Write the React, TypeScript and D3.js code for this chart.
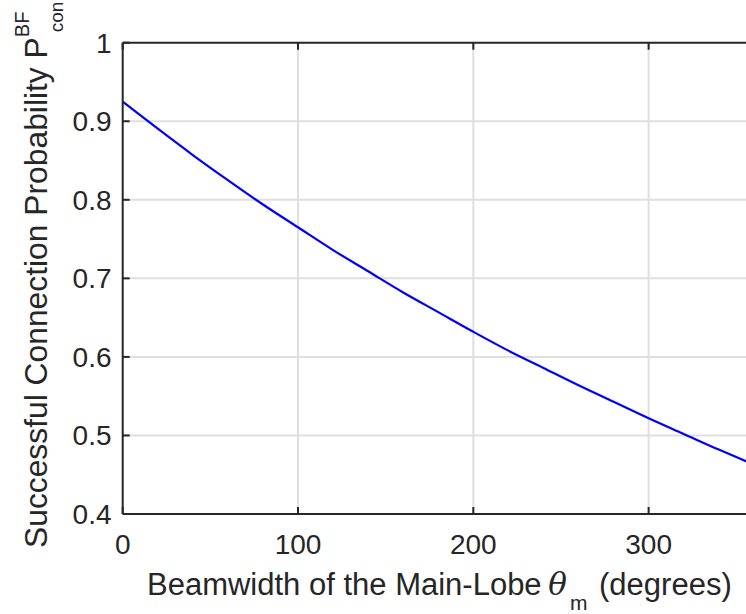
import React from "react";
import * as d3 from "d3";

const thetaDeg = [0, 20, 40, 60, 80, 100, 120, 140, 160, 180, 200, 220, 240, 260, 280, 300, 320, 340, 360];
const pCon = [0.925, 0.8905, 0.857, 0.825, 0.794, 0.765, 0.736, 0.709, 0.682, 0.657, 0.632, 0.608, 0.586, 0.564, 0.543, 0.522, 0.502, 0.482, 0.463];
const xTicks = [0, 100, 200, 300];
const yTicks = [0.4, 0.5, 0.6, 0.7, 0.8, 0.9, 1];

export default function App() {
  const W = 746, H = 614;
  const left = 122.7, right = 753.8, top = 42.7, bottom = 514;
  const x = d3.scaleLinear().domain([0, 360]).range([left, right]);
  const y = d3.scaleLinear().domain([0.4, 1]).range([bottom, top]);
  const line = d3.line<number>().x((_, i) => x(thetaDeg[i])).y((d) => y(d)).curve(d3.curveCatmullRom);
  const axisColor = "#262626";
  const font = "'Liberation Sans', Arial, Helvetica, sans-serif";
  const fs = 28;
  const lfs = 31;
  const ylfs = 31.8;
  const sfs = 21;
  return (
    <svg width={W} height={H} style={{ position: "absolute", left: 0, top: 0, overflow: "hidden", background: "#fff" }}>
      <rect x={0} y={0} width={W} height={H} fill="#fff" />
      {xTicks.filter((t) => t > 0).map((t) => (
        <line key={"gx" + t} x1={x(t)} x2={x(t)} y1={top} y2={bottom} stroke="#dfdfdf" strokeWidth={2} />
      ))}
      {yTicks.filter((t) => t > 0.4 && t < 1).map((t) => (
        <line key={"gy" + t} x1={left} x2={right} y1={y(t)} y2={y(t)} stroke="#dfdfdf" strokeWidth={2} />
      ))}
      <path d={line(pCon) || ""} fill="none" stroke="#0000ff" strokeWidth={2.2} />
      <line x1={left} x2={right} y1={bottom} y2={bottom} stroke={axisColor} strokeWidth={2} />
      <line x1={left} x2={right} y1={top} y2={top} stroke={axisColor} strokeWidth={2} />
      <line x1={left} x2={left} y1={top} y2={bottom} stroke={axisColor} strokeWidth={2} />
      {xTicks.map((t) => (
        <g key={"xt" + t}>
          <line x1={x(t)} x2={x(t)} y1={bottom} y2={bottom - 7} stroke={axisColor} strokeWidth={2} />
          <line x1={x(t)} x2={x(t)} y1={top} y2={top + 7} stroke={axisColor} strokeWidth={2} />
          <text x={x(t)} y={554} textAnchor="middle" fontFamily={font} fontSize={fs} fill={axisColor}>{t}</text>
        </g>
      ))}
      {yTicks.map((t) => (
        <g key={"yt" + t}>
          <line x1={left} x2={left + 7} y1={y(t)} y2={y(t)} stroke={axisColor} strokeWidth={2} />
          <text x={111.5} y={y(t) + 10} textAnchor="end" fontFamily={font} fontSize={fs} fill={axisColor}>{t === 1 ? "1" : t.toFixed(1)}</text>
        </g>
      ))}
      <text x={147} y={595} textAnchor="start" fontFamily={font} fontSize={lfs} fill={axisColor}>
        Beamwidth of the Main-Lobe{" "}
        <tspan dx={-2} fontFamily="'DejaVu Serif', 'Liberation Serif', serif" fontStyle="italic">θ</tspan>
        <tspan dx={3} dy={15} fontSize={sfs}>m</tspan>
        <tspan dx={3} dy={-15}> (degrees)</tspan>
      </text>
      <text transform={`translate(47, 548) rotate(-90)`} textAnchor="start" fontFamily={font} fontSize={ylfs} fill={axisColor}>
        Successful Connection Probability P
        <tspan dy={-18} fontSize={20}>BF</tspan>
        <tspan dx={-20.6} dy={34} fontSize={19}>con</tspan>
      </text>
    </svg>
  );
}
